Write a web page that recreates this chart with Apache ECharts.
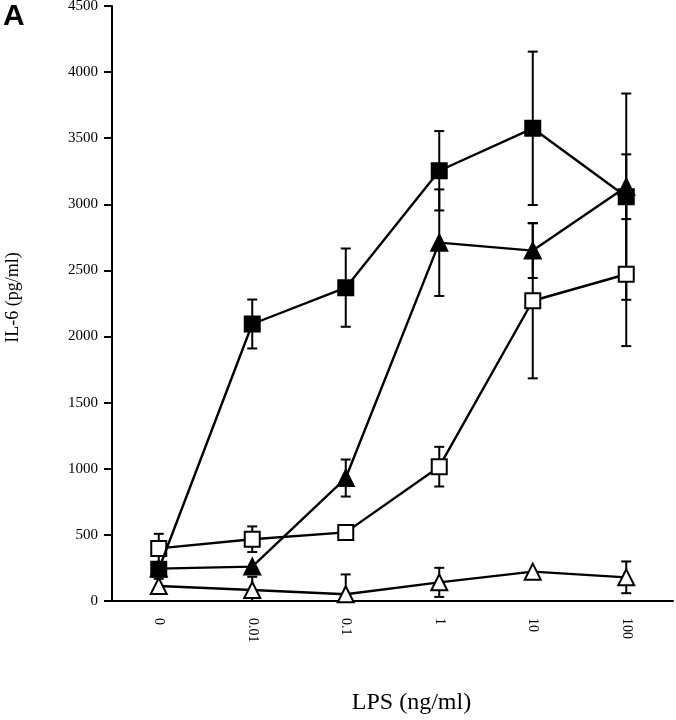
<!DOCTYPE html>
<html>
<head>
<meta charset="utf-8">
<script src="https://cdn.jsdelivr.net/npm/echarts@6/dist/echarts.min.js"></script>
<style>html,body{margin:0;padding:0;background:#fff}#c{width:676px;height:720px}</style>
</head>
<body>
<div id="c"></div>
<script>
// ---- data ----
var categories = ['0', '0.01', '0.1', '1', '10', '100'];
var yTicks = [0, 500, 1000, 1500, 2000, 2500, 3000, 3500, 4000, 4500];
var filledSquare = [240, 2095, 2370, 3254, 3575, 3058];
var filledSquareErr = [0, 185, 296, 300, 580, 780];
var filledTriangle = [245, 260, 930, 2710, 2650, 3133];
var filledTriangleErr = [0, 0, 140, 403, 207, 245];
var openSquare = [398, 467, 519, 1016, 2271, 2471];
var openSquareErr = [110, 97, 0, 150, 587, 543];
var openTriangle = [113, 83, 51, 141, 222, 179];
var openTriangleErr = [55, 100, 150, 110, 0, 120];

var serif = '"Liberation Serif", "Times New Roman", serif';
var chart = echarts.init(document.getElementById('c'));

function errSeries(vals, errs) {
  return {
    type: 'custom',
    silent: true,
    z: 1,
    data: categories.map(function (c, i) { return [i, vals[i], errs[i]]; }),
    renderItem: function (params, api) {
      var x = api.value(0), v = api.value(1), e = api.value(2);
      if (!e) return null;
      var lo = Math.max(0, v - e);
      var top = api.coord([x, v + e]);
      var bot = api.coord([x, lo]);
      var hw = 5;
      var st = { stroke: '#000', lineWidth: 2 };
      var children = [
        { type: 'line', shape: { x1: top[0], y1: top[1], x2: bot[0], y2: bot[1] }, style: st },
        { type: 'line', shape: { x1: top[0] - hw, y1: top[1], x2: top[0] + hw, y2: top[1] }, style: st }
      ];
      if (lo > 0) {
        children.push({ type: 'line', shape: { x1: bot[0] - hw, y1: bot[1], x2: bot[0] + hw, y2: bot[1] }, style: st });
      }
      return { type: 'group', children: children };
    }
  };
}

function lineSeries(vals, symbol, size, fill, z) {
  return {
    type: 'line',
    data: vals,
    symbol: symbol,
    symbolSize: size,
    showAllSymbol: true,
    z: z,
    lineStyle: { color: '#000', width: 2.4 },
    itemStyle: { color: fill, borderColor: '#000', borderWidth: 2 },
    emphasis: { disabled: true },
    animation: false
  };
}

chart.setOption({
  animation: false,
  backgroundColor: '#fff',
  grid: { left: 112, top: 6, width: 561, height: 595, containLabel: false, outerBoundsMode: 'none' },
  xAxis: {
    type: 'category',
    data: categories,
    boundaryGap: true,
    axisLine: { lineStyle: { color: '#000', width: 2 } },
    axisTick: { alignWithLabel: true, length: 9, lineStyle: { color: '#000', width: 2 } },
    axisLabel: { rotate: -90, margin: 17, fontFamily: serif, fontSize: 14, color: '#000' },
    splitLine: { show: false },
    name: 'LPS (ng/ml)',
    nameLocation: 'middle',
    nameGap: 90,
    nameTextStyle: { fontFamily: serif, fontSize: 24, color: '#000', padding: [0, 0, 0, 38] }
  },
  yAxis: {
    type: 'value',
    min: yTicks[0],
    max: yTicks[yTicks.length - 1],
    interval: yTicks[1] - yTicks[0],
    axisLine: { show: true, lineStyle: { color: '#000', width: 2 } },
    axisTick: { show: true, length: 8, lineStyle: { color: '#000', width: 2 } },
    axisLabel: { margin: 14, fontFamily: serif, fontSize: 15, color: '#000',
      formatter: function (v) { return String(v); } },
    splitLine: { show: false },
    name: 'IL-6 (pg/ml)',
    nameLocation: 'middle',
    nameGap: 90,
    nameRotate: 90,
    nameTextStyle: { fontFamily: serif, fontSize: 18, color: '#000', padding: [0, 0, 0, 12] }
  },
  graphic: [{
    type: 'text', left: 3, top: 2,
    style: { text: 'A', font: 'bold 30px "Liberation Sans", Arial, sans-serif', fill: '#000' }
  }],
  series: [
    errSeries(openTriangle, openTriangleErr),
    errSeries(openSquare, openSquareErr),
    errSeries(filledTriangle, filledTriangleErr),
    errSeries(filledSquare, filledSquareErr),
    lineSeries(openTriangle, 'triangle', 16, '#fff', 3),
    lineSeries(openSquare, 'rect', 15, '#fff', 4),
    lineSeries(filledTriangle, 'triangle', 16, '#000', 5),
    lineSeries(filledSquare, 'rect', 15, '#000', 6)
  ]
});
</script>
</body>
</html>
